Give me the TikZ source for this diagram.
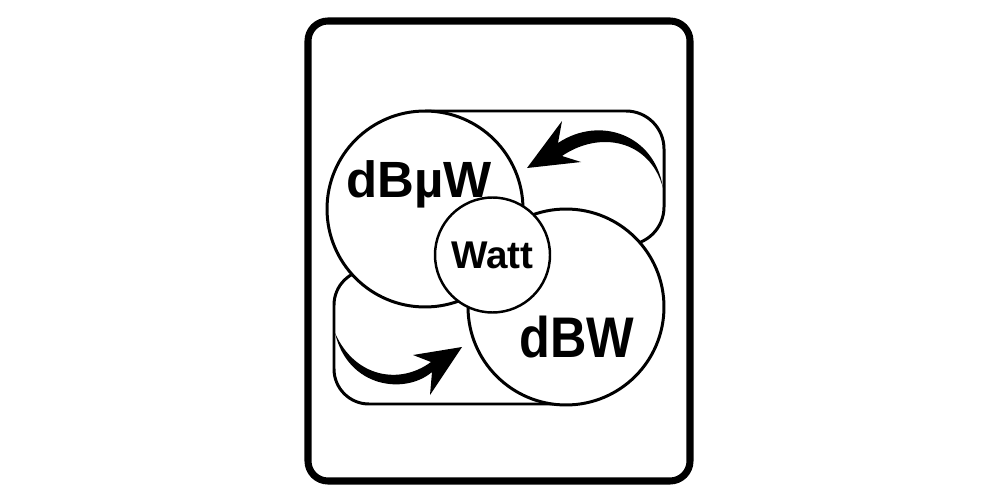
\documentclass[tikz,border=0pt]{standalone}
\usepackage{fontspec}
\setsansfont{Liberation Sans}
\usetikzlibrary{positioning}

\begin{document}
\begin{tikzpicture}[x=0.02cm,y=-0.02cm,semithick,
		ring/.style={circle,draw,fill=white,line width=1.7pt,inner sep=0pt},
		band/.style={draw,line width=1.7pt,rounded corners=0.76cm},
		tag/.style={anchor=base,inner sep=0pt}]
		\useasboundingbox (0,0) rectangle (1000,500);
		\draw[line width=4pt,rounded corners=0.4cm] (308,21) rectangle (690,481);

		% bands behind the circles
		\draw[band] (425,111) -- (664,111) -- (664,245) -- (425,245);
		\draw[band,rounded corners=0.7cm] (566,404) -- (334,404) -- (334,270) -- (566,270);

		\node[ring,minimum size=3.92cm] (dbuw) at (425,209) {};
		\node[ring,minimum size=3.92cm] (dbw) at (566,307) {};
		\node[ring,minimum size=2.3cm,line width=1.4pt,font={\sffamily\bfseries\fontsize{22}{22}\selectfont}] (watt) at (492.5,255) {Watt};

		\node[tag,font={\sffamily\bfseries\fontsize{29}{29}\selectfont}] (dbuwtxt) at (419,197) {dBµW};
		\node[tag,font={\sffamily\bfseries\fontsize{32.6}{33}\selectfont}] (dbwtxt) at (577,357) {\scalebox{0.88}[1]{dBW}};

		% curved arrows
		\fill (663,188) .. controls (655,135) and (600,115) .. (558,143) -- (562,121) -- (527,168) -- (581,162) -- (562,156) .. controls (600,130) and (650,140) .. (663,188) -- cycle;
		\fill (335,333) .. controls (348,388) and (405,395) .. (432,372) -- (430,395) -- (462,347) -- (413,355) -- (431,362) .. controls (400,385) and (355,378) .. (335,333) -- cycle;
	\end{tikzpicture}
\end{document}
